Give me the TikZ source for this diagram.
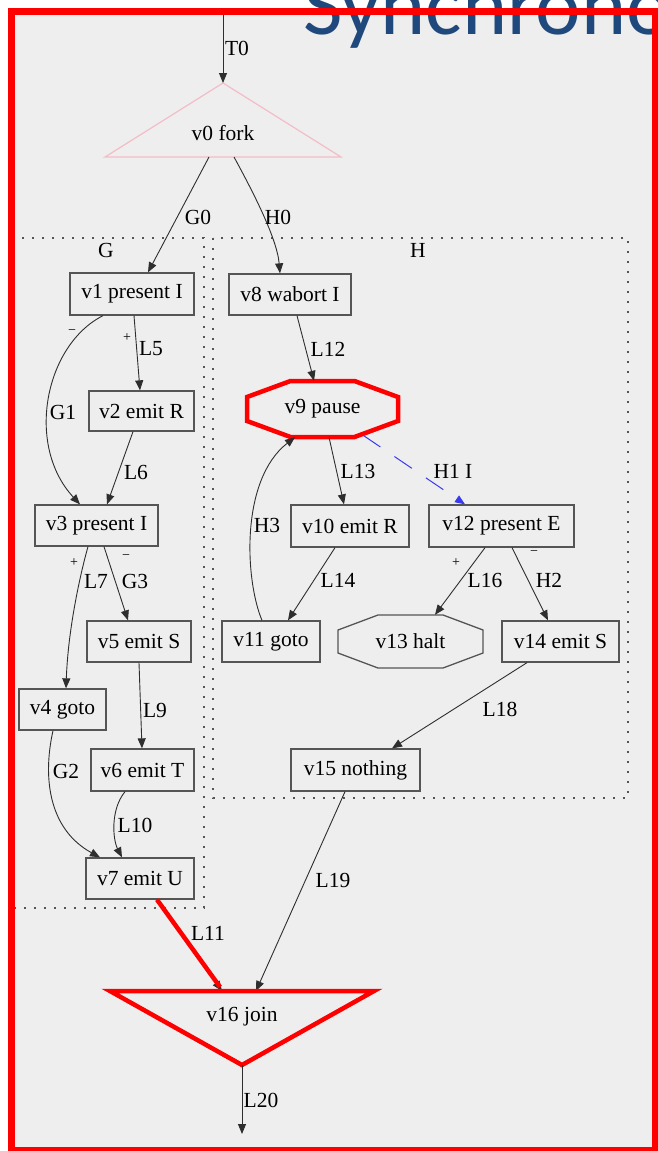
\documentclass[tikz,border=0pt]{standalone}
\usepackage{fontspec}
\setmainfont{Liberation Serif}
\newfontfamily\titlefont{Carlito}
\usetikzlibrary{arrows.meta,calc}

\definecolor{pagegray}{HTML}{EEEEEE}
\definecolor{titleblue}{HTML}{1F497D}
\definecolor{boxline}{HTML}{555555}
\definecolor{edgeline}{HTML}{2E2E2E}
\definecolor{forkpink}{HTML}{F4BCC8}
\definecolor{syncblue}{HTML}{3A3AF0}

\newcommand\gvfont{\fontsize{21.5}{24}\selectfont}
\newcommand\gvsmall{\fontsize{14}{16}\selectfont}

% octagon around a named node: #2 half width, #3 half height,
% #4 half length of top/bottom edge, #5 half length of side edge
\newcommand\octo[6]{%
  \draw[#6] ($(#1)+(-#4,-#3)$) -- ($(#1)+(#4,-#3)$) -- ($(#1)+(#2,-#5)$)
    -- ($(#1)+(#2,#5)$) -- ($(#1)+(#4,#3)$) -- ($(#1)+(-#4,#3)$)
    -- ($(#1)+(-#2,#5)$) -- ($(#1)+(-#2,-#5)$) -- cycle;}

\tikzset{
  box/.style={draw=boxline, line width=1.3pt, rectangle, inner sep=0pt, font=\gvfont},
  plain/.style={inner sep=0pt, font=\gvfont},
  edge/.style={draw=edgeline, line width=0.9pt, -{Triangle[length=10pt,width=8pt]}},
  lbl/.style={inner sep=0pt, font=\gvfont},
  sgn/.style={inner sep=0pt, font=\gvsmall},
  cluster/.style={draw=boxline, line width=1.6pt, dash pattern=on 1.6pt off 8.4pt},
}

\begin{document}
\begin{tikzpicture}[x=1pt,y=-1pt]
\useasboundingbox (0,0) rectangle (657,1151);
\fill[white] (0,0) rectangle (657,1151);
\fill[pagegray] (11.5,11.5) rectangle (655.5,1150.5);

% slide title, cut by the page edge
\begin{scope}
\clip (0,0) rectangle (657,1151);
\node[anchor=base west, inner sep=0pt, text=titleblue,
      font=\titlefont\fontsize{86}{88}\selectfont] (title) at (303,34) {Synchronous};
\end{scope}

% clusters
\draw[cluster] (14,238) rectangle (204,908);
\draw[cluster] (213,238) rectangle (628,798);
\node[lbl] (lG) at (106,250) {G};
\node[lbl] (lH) at (418,250) {H};

% fork
\coordinate (t0) at (223,15);
\coordinate (v0-top) at (223,83);
\coordinate (v0-l) at (105,157);
\coordinate (v0-r) at (341,157);
\coordinate (v0-g) at (209,157);
\coordinate (v0-h) at (234,157);
\draw[forkpink, line width=1.2pt] (v0-top) -- (v0-r) -- (v0-l) -- cycle;
\node[plain] (v0) at (223,133) {v0 fork};

% thread G
\node[box, minimum width=124pt, minimum height=42pt] (v1) at (132,294) {v1 present I};
\node[box, minimum width=105pt, minimum height=40pt] (v2) at (141.5,411) {v2 emit R};
\node[box, minimum width=123pt, minimum height=41pt] (v3) at (96.5,525.5) {v3 present I};
\node[box, minimum width=104pt, minimum height=41pt] (v5) at (139,641.5) {v5 emit S};
\node[box, minimum width=87pt, minimum height=41pt] (v4) at (62.5,709.5) {v4 goto};
\node[box, minimum width=103pt, minimum height=42pt] (v6) at (142.5,770) {v6 emit T};
\node[box, minimum width=108pt, minimum height=41pt] (v7) at (140,878.5) {v7 emit U};

% thread H
\node[box, minimum width=122pt, minimum height=41pt] (v8) at (290,294.5) {v8 wabort I};
\node[plain, minimum width=151pt, minimum height=56pt] (v9) at (322.5,409) {v9 pause};
\octo{v9}{75.5}{28}{32}{12}{draw=red, line width=4.5pt}
\node[box, minimum width=118pt, minimum height=42pt] (v10) at (350,526) {v10 emit R};
\node[box, minimum width=145pt, minimum height=42pt] (v12) at (501.5,526) {v12 present E};
\node[box, minimum width=98pt, minimum height=41pt] (v11) at (271,641.5) {v11 goto};
\node[plain, minimum width=145pt, minimum height=53pt] (v13) at (410.5,641.5) {v13 halt};
\octo{v13}{72.5}{26.5}{32.5}{11.5}{draw=boxline, line width=1.3pt}
\node[box, minimum width=117pt, minimum height=41pt] (v14) at (560.5,641.5) {v14 emit S};
\node[box, minimum width=129pt, minimum height=42pt] (v15) at (355.5,770) {v15 nothing};

% join
\coordinate (v16-l) at (110,991);
\coordinate (v16-r) at (374,991);
\coordinate (v16-bot) at (242,1065);
\coordinate (v16-a) at (222,991);
\coordinate (v16-b) at (256,991);
\coordinate (exit) at (242,1134);
\node[plain] (v16) at (242,1017) {v16 join};

% connectors
\draw[edge] (t0) -- (v0-top);
\draw[edge] (v0-g) -- ([xshift=16]v1.north);
\draw[edge] (v0-h) .. controls (252,190) and (277,238) .. ([xshift=-10]v8.north);

\draw[edge] ([xshift=-29]v1.south) .. controls (45,345) and (25,445) .. ([xshift=-16.5]v3.north);
\draw[edge] ([xshift=2]v1.south) -- ([xshift=-1.5]v2.north);
\draw[edge] ([xshift=-8.5]v2.south) -- ([xshift=10.5]v3.north);
\draw[edge] ([xshift=-8.5]v3.south) .. controls (80,575) and (68,630) .. ([xshift=3.5]v4.north);
\draw[edge] ([xshift=7.5]v3.south) -- ([xshift=-11]v5.north);
\draw[edge] (v5.south) -- ([xshift=-0.5]v6.north);
\draw[edge] ([xshift=-9.5]v4.south) .. controls (42,780) and (50,830) .. ([xshift=-40]v7.north);
\draw[edge] ([xshift=-17.5]v6.south) .. controls (110,810) and (113,840) .. ([xshift=-18]v7.north);

\draw[edge] ([xshift=7]v8.south) -- ([xshift=-8.5]v9.north);
\draw[edge] ([xshift=6.5]v9.south) -- ([xshift=-6]v10.north);
\draw[syncblue, line width=1pt, dash pattern=on 21pt off 17pt,
      -{Triangle[length=10pt,width=8pt]}]
  ([xshift=40.5,yshift=2]v9.south) -- ([xshift=-36.5]v12.north);
\draw[edge] ([xshift=-9]v11.north) .. controls (245,580) and (240,480) .. ([xshift=-27.5]v9.south);
\draw[edge] ([xshift=-15]v10.south) -- ([xshift=17]v11.north);
\draw[edge] ([xshift=-16.5]v12.south) -- ([xshift=24.5]v13.north);
\draw[edge] ([xshift=10.5]v12.south) -- ([xshift=-12.5]v14.north);
\draw[edge] ([xshift=-33.5]v14.south) -- ([xshift=36.5]v15.north);

\draw[edge] ([xshift=17]v7.south) -- (v16-a);
\draw[red, line width=4.5pt] ([xshift=17]v7.south) -- ($(v16-a)+(-2,-4)$);
\draw[edge] ([xshift=-10.5]v15.south) -- (v16-b);
\draw[red, line width=4.5pt] (v16-l) -- (v16-r) -- (v16-bot) -- cycle;
\draw[edge] (v16-bot) -- (exit);

% edge labels
\node[lbl] (lT0) at (237,48) {T0};
\node[lbl] (lG0) at (198,217) {G0};
\node[lbl] (lH0) at (278,217) {H0};
\node[lbl] (lG1) at (63,412) {G1};
\node[sgn] (m1) at (72,332) {−};
\node[sgn] (p1) at (127,338) {+};
\node[lbl] (lL5) at (151,349) {L5};
\node[lbl] (lL6) at (136,472) {L6};
\node[sgn] (p3) at (74,563) {+};
\node[lbl] (lL7) at (96,581) {L7};
\node[sgn] (m3) at (126,557) {−};
\node[lbl] (lG3) at (135,581) {G3};
\node[lbl] (lL9) at (155,710) {L9};
\node[lbl] (lG2) at (66,771) {G2};
\node[lbl] (lL10) at (135,825) {L10};
\node[lbl] (lL11) at (208,933) {L11};
\node[lbl] (lL19) at (333,880) {L19};
\node[lbl] (lL20) at (261,1100) {L20};
\node[lbl] (lL12) at (328,349) {L12};
\node[lbl] (lL13) at (358,471) {L13};
\node[lbl] (lH1) at (453,471) {H1 I};
\node[lbl] (lH3) at (267,525) {H3};
\node[lbl] (lL14) at (338,580) {L14};
\node[sgn] (p12) at (456,563) {+};
\node[lbl] (lL16) at (485,580) {L16};
\node[sgn] (m12) at (534,553) {−};
\node[lbl] (lH2) at (549,580) {H2};
\node[lbl] (lL18) at (500,709) {L18};

% slide frame
\draw[red, line width=7pt] (11.5,11.5) rectangle (655.5,1150.5);
\end{tikzpicture}
\end{document}
